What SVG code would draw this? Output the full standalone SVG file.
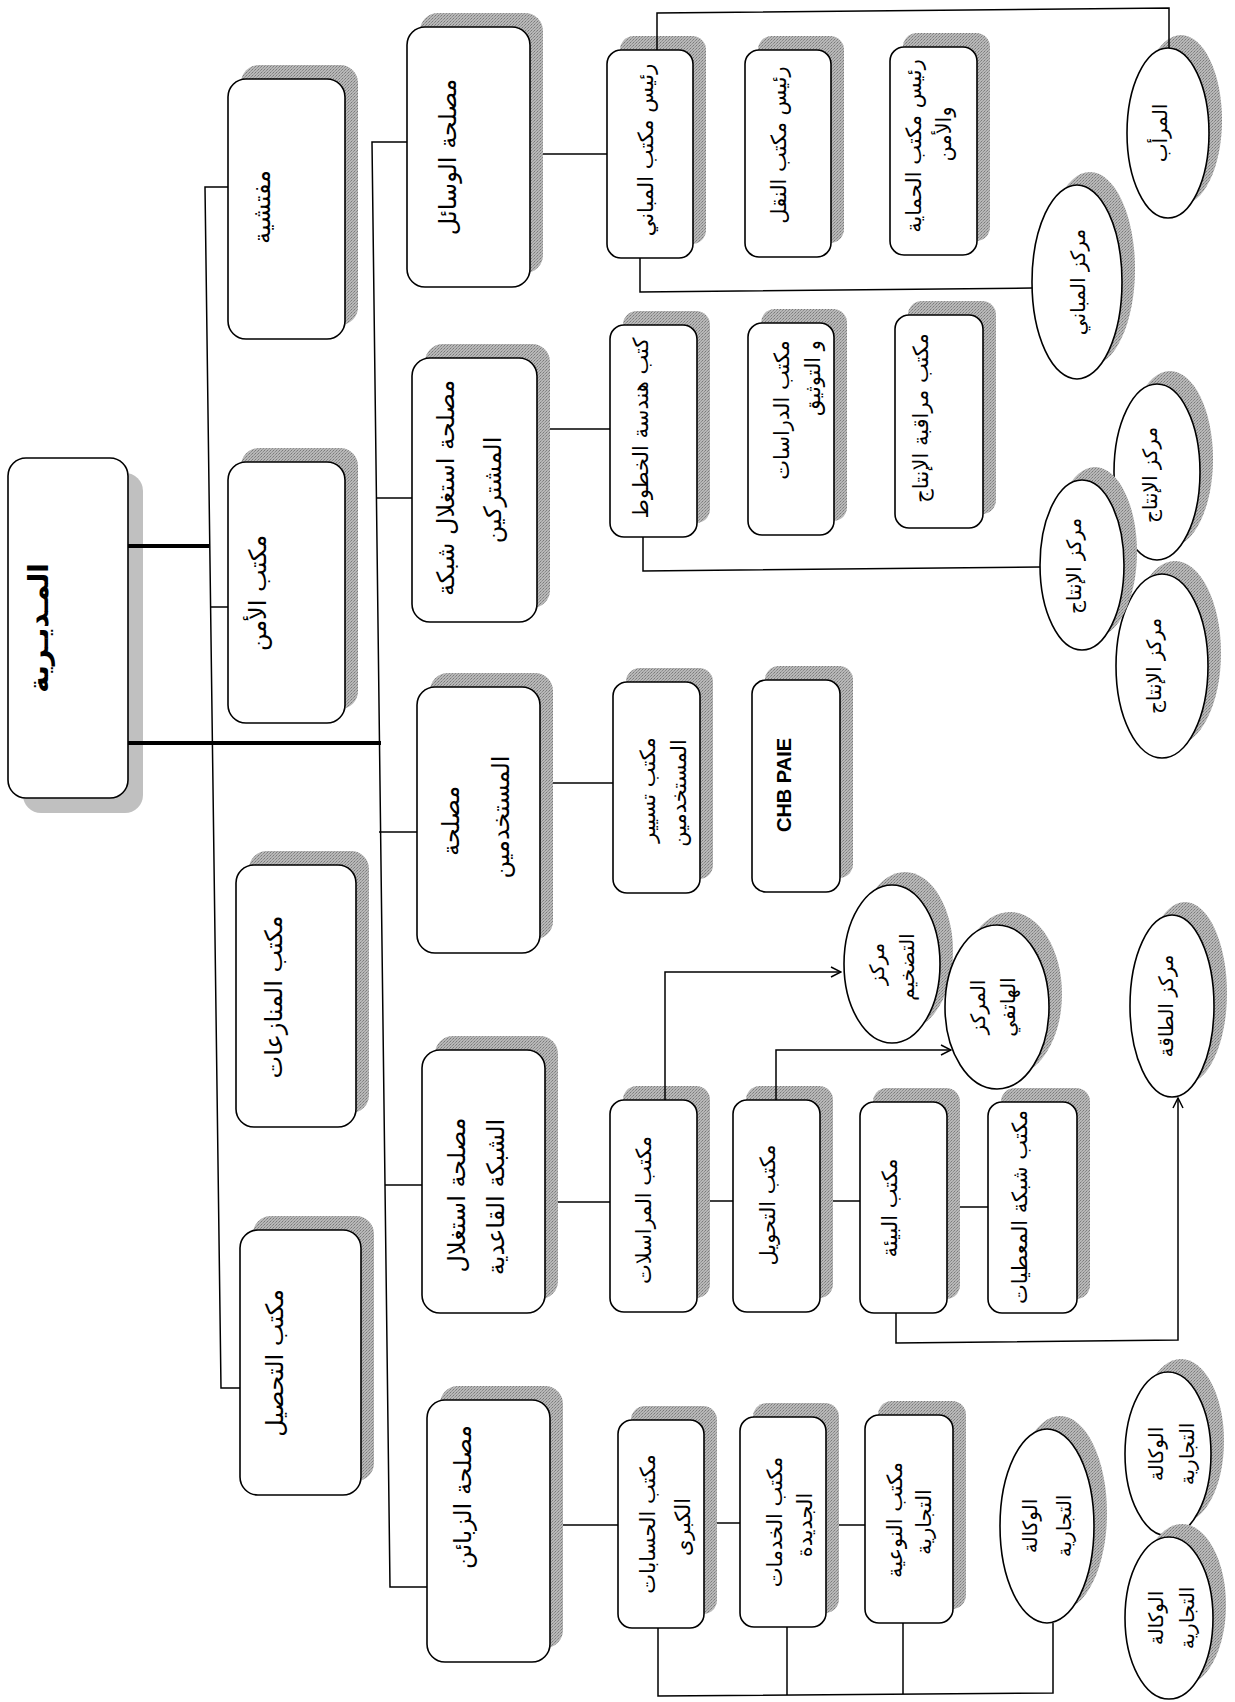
<svg xmlns="http://www.w3.org/2000/svg" width="1235" height="1702" viewBox="0 0 1235 1702">
<style>
.bg{fill:#fff}
.sh{fill:url(#ht)}
.box{fill:#fff;stroke:#000;stroke-width:1.6}
.t{font-family:'DejaVu Sans','Noto Sans',sans-serif;font-size:21px;text-anchor:middle;dominant-baseline:central;fill:#000}
.t2{font-size:24px}
.te{font-size:20px}
.ln{fill:none;stroke:#000;stroke-width:1.5}
.thick{fill:none;stroke:#000;stroke-width:4}
</style>
<defs>
<pattern id="ht" width="3" height="3" patternUnits="userSpaceOnUse">
<rect width="3" height="3" fill="#b8b8b8"/><rect width="1" height="1" fill="#7a7a7a"/><rect x="2" y="1" width="1" height="1" fill="#8c8c8c"/><rect x="1" y="2" width="1" height="1" fill="#9a9a9a"/>
</pattern>
<marker id="arr" markerWidth="12" markerHeight="12" refX="11" refY="6" orient="auto" markerUnits="userSpaceOnUse">
<path d="M1,1 L11,6 L1,11" fill="none" stroke="#000" stroke-width="1.5"/>
</marker>
</defs>
<rect class="bg" width="1235" height="1702"/>

<g id="n-directorate">
<rect x="23" y="473" width="120" height="340" rx="18" fill="#c0c0c0"/>
<rect class="box" x="8" y="458" width="120" height="340" rx="18"/>
<text class="t" transform="rotate(-90)" x="-628" y="38" style="font-size:28px;font-weight:bold">المـديـرية</text>
</g>

<g id="n-inspection">
<rect class="sh" x="241" y="65" width="117" height="260" rx="18"/>
<rect class="box" x="228" y="79" width="117" height="260" rx="18"/>
<text class="t t2" transform="rotate(-90)" x="-207" y="262">مفتشية</text>
</g>
<g id="n-security">
<rect class="sh" x="241" y="448" width="117" height="261" rx="18"/>
<rect class="box" x="228" y="462" width="117" height="261" rx="18"/>
<text class="t t2" transform="rotate(-90)" x="-593" y="258">مكتب الأمن</text>
</g>
<g id="n-disputes">
<rect class="sh" x="249" y="851" width="120" height="262" rx="18"/>
<rect class="box" x="236" y="865" width="120" height="262" rx="18"/>
<text class="t t2" transform="rotate(-90)" x="-997" y="274">مكتب المنازعات</text>
</g>
<g id="n-collection">
<rect class="sh" x="253" y="1216" width="121" height="265" rx="18"/>
<rect class="box" x="240" y="1230" width="121" height="265" rx="18"/>
<text class="t t2" transform="rotate(-90)" x="-1363" y="275">مكتب التحصيل</text>
</g>

<g id="n-means">
<rect class="sh" x="420" y="13" width="123" height="260" rx="18"/>
<rect class="box" x="407" y="27" width="123" height="260" rx="18"/>
<text class="t t2" transform="rotate(-90)" x="-157" y="448">مصلحة الوسائل</text>
</g>
<g id="n-subscribers">
<rect class="sh" x="425" y="344" width="125" height="264" rx="18"/>
<rect class="box" x="412" y="358" width="125" height="264" rx="18"/>
<text class="t t2" transform="rotate(-90)"><tspan x="-488" y="446">مصلحة استغلال شبكة</tspan><tspan x="-490" y="493">المشتركين</tspan></text>
</g>
<g id="n-staff">
<rect class="sh" x="430" y="673" width="123" height="266" rx="18"/>
<rect class="box" x="417" y="687" width="123" height="266" rx="18"/>
<text class="t t2" transform="rotate(-90)"><tspan x="-821" y="451">مصلحة</tspan><tspan x="-817" y="501">المستخدمين</tspan></text>
</g>
<g id="n-backbone">
<rect class="sh" x="435" y="1036" width="123" height="263" rx="18"/>
<rect class="box" x="422" y="1050" width="123" height="263" rx="18"/>
<text class="t t2" transform="rotate(-90)"><tspan x="-1195" y="457">مصلحة استغلال</tspan><tspan x="-1197" y="496">الشبكة القاعدية</tspan></text>
</g>
<g id="n-customers">
<rect class="sh" x="440" y="1386" width="123" height="262" rx="18"/>
<rect class="box" x="427" y="1400" width="123" height="262" rx="18"/>
<text class="t t2" transform="rotate(-90)" x="-1497" y="463">مصلحة الزبائن</text>
</g>

<g id="n-buildings">
<rect class="sh" x="620" y="36" width="86" height="208" rx="14"/>
<rect class="box" x="607" y="50" width="86" height="208" rx="14"/>
<text class="t" transform="rotate(-90)" x="-150" y="646">رئيس مكتب المباني</text>
</g>
<g id="n-transport">
<rect class="sh" x="758" y="36" width="86" height="207" rx="14"/>
<rect class="box" x="745" y="50" width="86" height="207" rx="14"/>
<text class="t" transform="rotate(-90)" x="-145" y="779">رئيس مكتب النقل</text>
</g>
<g id="n-protection">
<rect class="sh" x="903" y="33" width="87" height="208" rx="14"/>
<rect class="box" x="890" y="47" width="87" height="208" rx="14"/>
<text class="t" transform="rotate(-90)"><tspan x="-146" y="914">رئيس مكتب الحماية</tspan><tspan x="-134" y="944">والأمن</tspan></text>
</g>
<g id="n-lines">
<rect class="sh" x="623" y="311" width="87" height="212" rx="14"/>
<rect class="box" x="610" y="325" width="87" height="212" rx="14"/>
<text class="t" transform="rotate(-90)" x="-428" y="641">كتب هندسة الخطوط</text>
</g>
<g id="n-studies">
<rect class="sh" x="761" y="309" width="86" height="212" rx="14"/>
<rect class="box" x="748" y="323" width="86" height="212" rx="14"/>
<text class="t" transform="rotate(-90)"><tspan x="-410" y="782">مكتب الدراسات</tspan><tspan x="-378" y="813">و التوثيق</tspan></text>
</g>
<g id="n-production-control">
<rect class="sh" x="908" y="301" width="88" height="213" rx="14"/>
<rect class="box" x="895" y="315" width="88" height="213" rx="14"/>
<text class="t" transform="rotate(-90)" x="-418" y="921">مكتب مراقبة الإنتاج</text>
</g>
<g id="n-staff-mgmt">
<rect class="sh" x="626" y="668" width="87" height="211" rx="14"/>
<rect class="box" x="613" y="682" width="87" height="211" rx="14"/>
<text class="t" transform="rotate(-90)"><tspan x="-790" y="648">مكتب تسيير</tspan><tspan x="-793" y="679">المستخدمين</tspan></text>
</g>
<g id="n-chb">
<rect class="sh" x="765" y="666" width="88" height="212" rx="14"/>
<rect class="box" x="752" y="680" width="88" height="212" rx="14"/>
<text class="t" transform="rotate(-90)" x="-785" y="784" style="font-family:'Liberation Sans',Arial,sans-serif;font-weight:bold;font-size:20px">CHB PAIE</text>
</g>
<g id="n-correspondence">
<rect class="sh" x="623" y="1086" width="87" height="212" rx="14"/>
<rect class="box" x="610" y="1100" width="87" height="212" rx="14"/>
<text class="t" transform="rotate(-90)" x="-1210" y="644">مكتب المراسلات</text>
</g>
<g id="n-switching">
<rect class="sh" x="746" y="1086" width="87" height="212" rx="14"/>
<rect class="box" x="733" y="1100" width="87" height="212" rx="14"/>
<text class="t" transform="rotate(-90)" x="-1205" y="768">مكتب التحويل</text>
</g>
<g id="n-environment">
<rect class="sh" x="873" y="1088" width="87" height="211" rx="14"/>
<rect class="box" x="860" y="1102" width="87" height="211" rx="14"/>
<text class="t" transform="rotate(-90)" x="-1208" y="890">مكتب البيئة</text>
</g>
<g id="n-data">
<rect class="sh" x="1001" y="1088" width="89" height="211" rx="14"/>
<rect class="box" x="988" y="1102" width="89" height="211" rx="14"/>
<text class="t" transform="rotate(-90)" x="-1207" y="1020">مكتب شبكة المعطيات</text>
</g>
<g id="n-big-accounts">
<rect class="sh" x="631" y="1406" width="86" height="208" rx="14"/>
<rect class="box" x="618" y="1420" width="86" height="208" rx="14"/>
<text class="t" transform="rotate(-90)"><tspan x="-1524" y="648">مكتب الحسابات</tspan><tspan x="-1527" y="683">الكبرى</tspan></text>
</g>
<g id="n-new-services">
<rect class="sh" x="753" y="1403" width="86" height="210" rx="14"/>
<rect class="box" x="740" y="1417" width="86" height="210" rx="14"/>
<text class="t" transform="rotate(-90)"><tspan x="-1522" y="775">مكتب الخدمات</tspan><tspan x="-1525" y="805">الجديدة</tspan></text>
</g>
<g id="n-quality">
<rect class="sh" x="878" y="1401" width="88" height="208" rx="14"/>
<rect class="box" x="865" y="1415" width="88" height="208" rx="14"/>
<text class="t" transform="rotate(-90)"><tspan x="-1520" y="895">مكتب النوعية</tspan><tspan x="-1522" y="924">التجارية</tspan></text>
</g>

<g id="n-garage">
<ellipse class="sh" cx="1181" cy="120" rx="41" ry="85"/>
<ellipse class="box" cx="1168" cy="133" rx="41" ry="85"/>
<text class="t te" transform="rotate(-90)" x="-133" y="1160">المرأب</text>
</g>
<g id="n-buildings-center">
<ellipse class="sh" cx="1090" cy="269" rx="45" ry="97"/>
<ellipse class="box" cx="1077" cy="282" rx="45" ry="97"/>
<text class="t te" transform="rotate(-90)" x="-282" y="1078">مركز المباني</text>
</g>
<g id="n-production-2">
<ellipse class="sh" cx="1170" cy="459" rx="43" ry="88"/>
<ellipse class="box" cx="1157" cy="472" rx="43" ry="88"/>
<text class="t te" transform="rotate(-90)" x="-475" y="1150">مركز الإنتاج</text>
</g>
<g id="n-production-3">
<ellipse class="sh" cx="1175" cy="653" rx="46" ry="92"/>
<ellipse class="box" cx="1162" cy="666" rx="46" ry="92"/>
<text class="t te" transform="rotate(-90)" x="-666" y="1154">مركز الإنتاج</text>
</g>
<g id="n-production-1">
<ellipse class="sh" cx="1095" cy="552" rx="42" ry="85"/>
<ellipse class="box" cx="1082" cy="565" rx="42" ry="85"/>
<text class="t te" transform="rotate(-90)" x="-566" y="1074">مركز الإنتاج</text>
</g>
<g id="n-amplification">
<ellipse class="sh" cx="905" cy="951" rx="48" ry="79"/>
<ellipse class="box" cx="892" cy="964" rx="48" ry="79"/>
<text class="t te" transform="rotate(-90)"><tspan x="-964" y="877">مركز</tspan><tspan x="-967" y="907">التضخيم</tspan></text>
</g>
<g id="n-telephone">
<ellipse class="sh" cx="1010" cy="994" rx="52" ry="82"/>
<ellipse class="box" cx="997" cy="1007" rx="52" ry="82"/>
<text class="t te" transform="rotate(-90)"><tspan x="-1007" y="978">المركز</tspan><tspan x="-1007" y="1008">الهاتفي</tspan></text>
</g>
<g id="n-energy">
<ellipse class="sh" cx="1185" cy="993" rx="42" ry="91"/>
<ellipse class="box" cx="1172" cy="1006" rx="42" ry="91"/>
<text class="t te" transform="rotate(-90)" x="-1006" y="1166">مركز الطاقة</text>
</g>
<g id="n-agency-1">
<ellipse class="sh" cx="1060" cy="1513" rx="47" ry="97"/>
<ellipse class="box" cx="1047" cy="1526" rx="47" ry="97"/>
<text class="t te" transform="rotate(-90)"><tspan x="-1526" y="1030">الوكالة</tspan><tspan x="-1526" y="1064">التجارية</tspan></text>
</g>
<g id="n-agency-2">
<ellipse class="sh" cx="1181" cy="1441" rx="43" ry="82"/>
<ellipse class="box" cx="1168" cy="1454" rx="43" ry="82"/>
<text class="t te" transform="rotate(-90)"><tspan x="-1454" y="1156">الوكالة</tspan><tspan x="-1454" y="1187">التجارية</tspan></text>
</g>
<g id="n-agency-3">
<ellipse class="sh" cx="1182" cy="1605" rx="44" ry="81"/>
<ellipse class="box" cx="1169" cy="1618" rx="44" ry="81"/>
<text class="t te" transform="rotate(-90)"><tspan x="-1618" y="1156">الوكالة</tspan><tspan x="-1618" y="1187">التجارية</tspan></text>
</g>

<g id="connectors">
<path class="thick" d="M128,546 H209"/>
<path class="thick" d="M128,743 H381"/>
<path class="ln" d="M228,187 H205 L221,1388 H240"/>
<path class="ln" d="M211,607 H228"/>
<path class="ln" d="M407,142 H372 L390,1587 H427"/>
<path class="ln" d="M376,498 H412"/>
<path class="ln" d="M379,832 H417"/>
<path class="ln" d="M385,1185 H422"/>
<path class="ln" d="M543,154 H607"/>
<path class="ln" d="M550,429 H610"/>
<path class="ln" d="M553,783 H613"/>
<path class="ln" d="M558,1202 H610"/>
<path class="ln" d="M563,1525 H618"/>
<path class="ln" d="M710,1201 H733"/>
<path class="ln" d="M833,1201 H860"/>
<path class="ln" d="M960,1207 H988"/>
<path class="ln" d="M717,1523 H740"/>
<path class="ln" d="M839,1525 H865"/>
<path class="ln" d="M657,50 V13 L1169,8 V48"/>
<path class="ln" d="M640,258 V292 L1032,288"/>
<path class="ln" d="M643,537 V571 L1040,567"/>
<path class="ln" d="M665,1100 V972 H841" marker-end="url(#arr)"/>
<path class="ln" d="M776,1100 V1050 H951" marker-end="url(#arr)"/>
<path class="ln" d="M896,1313 V1343 L1178,1340 V1098" marker-end="url(#arr)"/>
<path class="ln" d="M658,1628 V1696 L1053,1693 V1623"/>
<path class="ln" d="M787,1627 V1695"/>
<path class="ln" d="M903,1623 V1694"/>
</g>
</svg>
